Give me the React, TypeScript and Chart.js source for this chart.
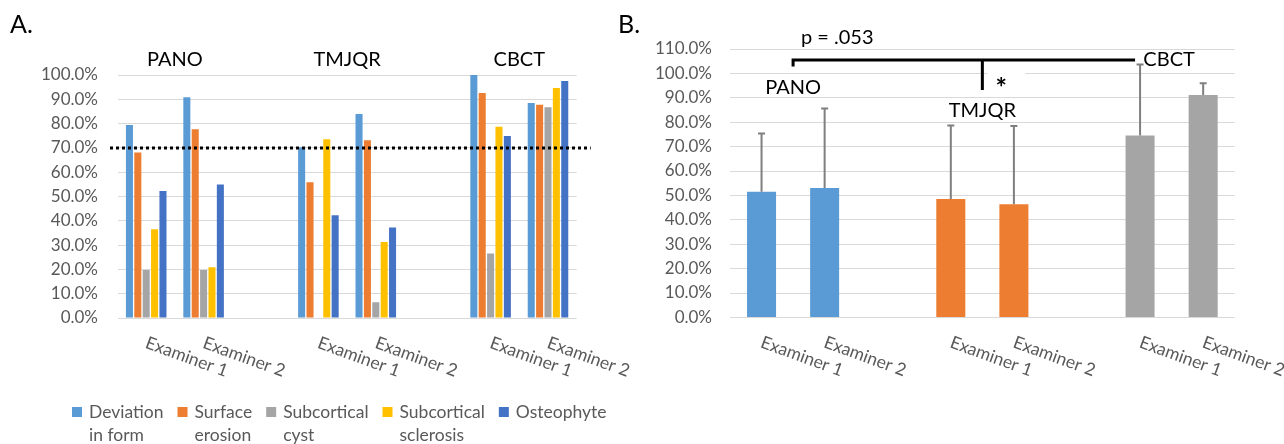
import React, { useEffect, useRef } from "react";
import { Chart, registerables } from "chart.js";

Chart.register(...registerables);

const FONT = "Lato, 'Open Sans', sans-serif";
const GREY_TEXT = "#595959";
const GRID = "#D9D9D9";

// ---------- shared categories ----------
const categories = ["Examiner 1", "Examiner 2", "", "Examiner 1", "Examiner 2", "", "Examiner 1", "Examiner 2"];
const modalities = ["PANO", "TMJQR", "CBCT"];
const modalityCenters = [0.5, 3.5, 6.5];

// ---------- panel A ----------
const seriesNames = ["Deviation in form", "Surface erosion", "Subcortical cyst", "Subcortical sclerosis", "Osteophyte"];
const legendLines = [["Deviation", "in form"], ["Surface", "erosion"], ["Subcortical", "cyst"], ["Subcortical", "sclerosis"], ["Osteophyte"]];
const seriesColors = ["#5B9BD5", "#ED7D31", "#A5A5A5", "#FFC000", "#4472C4"];
const deviationInForm = [79.4, 90.8, null, 70.3, 83.9, null, 100, 88.5];
const surfaceErosion = [68.1, 77.7, null, 55.9, 73.1, null, 92.6, 87.8];
const subcorticalCyst = [19.8, 19.8, null, 0, 6.5, null, 26.5, 86.7];
const subcorticalSclerosis = [36.5, 20.9, null, 73.6, 31.3, null, 78.7, 94.6];
const osteophyte = [52.3, 54.9, null, 42.3, 37.2, null, 74.9, 97.5];
const seriesValues = [deviationInForm, surfaceErosion, subcorticalCyst, subcorticalSclerosis, osteophyte];
const thresholdValue = 70;
const yMaxA = 100;
const yMaxB = 110;
const yStep = 10;

// ---------- panel B ----------
const meanAgreement = [51.5, 53.0, null, 48.5, 46.4, null, 74.6, 91.1];
const upperError = [75.4, 85.6, null, 78.6, 78.4, null, 103.6, 96.0];
const barColorsB = ["#5B9BD5", "#5B9BD5", "#FFFFFF", "#ED7D31", "#ED7D31", "#FFFFFF", "#A5A5A5", "#A5A5A5"];
const pValueText = "p = .053";
const sigMark = "*";

const pct = (v: any) => Number(v).toFixed(1) + "%";

const rotatedLabelsPlugin = {
  id: "rotatedLabels",
  afterDraw(chart: any) {
    const { ctx, scales, chartArea } = chart;
    const x = scales.x;
    ctx.save();
    ctx.font = `17.5px ${FONT}`;
    ctx.fillStyle = GREY_TEXT;
    ctx.textAlign = "left";
    ctx.textBaseline = "top";
    categories.forEach((lab, i) => {
      if (!lab) return;
      const px = x.getPixelForValue(i);
      ctx.save();
      ctx.translate(px + 3, chartArea.bottom + 16);
      ctx.rotate((20 * Math.PI) / 180);
      ctx.fillText(lab, 0, 0);
      ctx.restore();
    });
    ctx.restore();
  },
};

const panelAPlugin = {
  id: "panelA",
  afterDatasetsDraw(chart: any) {
    const { ctx, scales, chartArea } = chart;
    const y = scales.y.getPixelForValue(thresholdValue);
    ctx.save();
    ctx.strokeStyle = "#000";
    ctx.lineWidth = 3;
    ctx.setLineDash([3, 3]);
    ctx.beginPath();
    ctx.moveTo(chartArea.left - 7.5, y);
    ctx.lineTo(chartArea.right + 14, y);
    ctx.stroke();
    ctx.restore();
  },
  afterDraw(chart: any) {
    const { ctx, scales, chartArea } = chart;
    const x = scales.x;
    ctx.save();
    // panel letter
    ctx.fillStyle = "#000";
    ctx.font = `25px ${FONT}`;
    ctx.textAlign = "left";
    ctx.textBaseline = "alphabetic";
    ctx.fillText("A.", 10, 33);
    // modality headers
    ctx.font = `20px ${FONT}`;
    ctx.textAlign = "center";
    ctx.textBaseline = "middle";
    modalities.forEach((m, i) => {
      ctx.fillText(m, x.getPixelForValue(modalityCenters[i]), chartArea.top - 15);
    });
    // legend
    ctx.font = `17.5px ${FONT}`;
    ctx.textAlign = "left";
    ctx.textBaseline = "alphabetic";
    let cx = 72;
    legendLines.forEach((lines, i) => {
      ctx.fillStyle = seriesColors[i];
      ctx.fillRect(cx, 407, 10, 10);
      ctx.fillStyle = GREY_TEXT;
      const tx = cx + 17;
      let w = 0;
      lines.forEach((ln, j) => {
        ctx.fillText(ln, tx, 418 + j * 23);
        w = Math.max(w, ctx.measureText(ln).width);
      });
      cx = tx + w + 14;
    });
    ctx.restore();
  },
};

const panelBPlugin = {
  id: "panelB",
  afterDatasetsDraw(chart: any) {
    const { ctx, scales } = chart;
    const meta = chart.getDatasetMeta(0);
    ctx.save();
    ctx.strokeStyle = "#7F7F7F";
    ctx.lineWidth = 2;
    meta.data.forEach((bar: any, i: number) => {
      const up = upperError[i];
      const v = meanAgreement[i];
      if (up == null || v == null) return;
      const top = scales.y.getPixelForValue(up);
      ctx.beginPath();
      ctx.moveTo(bar.x, bar.y);
      ctx.lineTo(bar.x, top);
      ctx.moveTo(bar.x - 3.5, top);
      ctx.lineTo(bar.x + 3.5, top);
      ctx.stroke();
    });
    ctx.restore();
  },
  afterDraw(chart: any) {
    const { ctx, scales } = chart;
    const x = scales.x;
    const y = scales.y;
    ctx.save();
    ctx.fillStyle = "#000";
    ctx.font = `25px ${FONT}`;
    ctx.textAlign = "left";
    ctx.textBaseline = "alphabetic";
    ctx.fillText("B.", 18, 33);

    const xL = x.getPixelForValue(0.5);
    const xM = x.getPixelForValue(3.5);
    const xR = x.getPixelForValue(6) - 5;
    const yb = y.getPixelForValue(105.5);

    // white box behind significance mark
    ctx.fillStyle = "#FFFFFF";
    ctx.fillRect(xM + 5, y.getPixelForValue(102), 38, y.getPixelForValue(90.8) - y.getPixelForValue(102));

    // bracket
    ctx.strokeStyle = "#000";
    ctx.lineWidth = 3;
    ctx.lineCap = "butt";
    ctx.beginPath();
    ctx.moveTo(xL, y.getPixelForValue(102.8));
    ctx.lineTo(xL, yb);
    ctx.lineTo(xR, yb);
    ctx.moveTo(xM, yb);
    ctx.lineTo(xM, y.getPixelForValue(93.2));
    ctx.stroke();

    ctx.fillStyle = "#000";
    ctx.font = `20px ${FONT}`;
    ctx.textAlign = "center";
    ctx.textBaseline = "middle";
    ctx.fillText(pValueText, x.getPixelForValue(1.2), y.getPixelForValue(114.8));
    ctx.fillText(modalities[0], x.getPixelForValue(0.5), y.getPixelForValue(94.0));
    ctx.fillText(modalities[1], x.getPixelForValue(3.5), y.getPixelForValue(84.6));
    ctx.fillText(modalities[2], x.getPixelForValue(6.46), y.getPixelForValue(105.5));
    ctx.font = `bold 27px ${FONT}`;
    ctx.fillText(sigMark, x.getPixelForValue(3.8), y.getPixelForValue(93.8));
    ctx.restore();
  },
};

function yAxis(max: number, width: number, padding: number) {
  return {
    min: 0,
    max,
    ticks: {
      stepSize: yStep,
      callback: (v: any) => pct(v),
      color: GREY_TEXT,
      font: { family: FONT, size: 17 },
      padding,
    },
    grid: { color: GRID, lineWidth: 1, drawTicks: false },
    border: { display: false },
    afterFit: (a: any) => {
      a.width = width;
    },
  };
}

export default function App() {
  const refA = useRef<HTMLCanvasElement>(null);
  const refB = useRef<HTMLCanvasElement>(null);

  useEffect(() => {
    Chart.defaults.font.family = FONT;
    const chartA = new Chart(refA.current as HTMLCanvasElement, {
      type: "bar",
      data: {
        labels: categories,
        datasets: seriesNames.map((name, i) => ({
          label: name,
          data: seriesValues[i],
          backgroundColor: seriesColors[i],
          categoryPercentage: 0.73,
          barPercentage: 0.84,
        })),
      },
      options: {
        responsive: false,
        animation: false,
        layout: { padding: { left: 0, top: 75, right: 63.3, bottom: 126 } },
        plugins: { legend: { display: false }, tooltip: { enabled: false } },
        scales: {
          x: { display: false },
          y: yAxis(yMaxA, 117.5, 19.5),
        },
      } as any,
      plugins: [panelAPlugin, rotatedLabelsPlugin],
    });

    const chartB = new Chart(refB.current as HTMLCanvasElement, {
      type: "bar",
      data: {
        labels: categories,
        datasets: [
          {
            label: "Mean",
            data: meanAgreement,
            backgroundColor: barColorsB,
            categoryPercentage: 1,
            barPercentage: 0.46,
          },
        ],
      },
      options: {
        responsive: false,
        animation: false,
        layout: { padding: { left: 0, top: 49, right: 49.3, bottom: 126.6 } },
        plugins: { legend: { display: false }, tooltip: { enabled: false } },
        scales: {
          x: { display: false },
          y: yAxis(yMaxB, 130, 18),
        },
      } as any,
      plugins: [panelBPlugin, rotatedLabelsPlugin],
    });

    return () => {
      chartA.destroy();
      chartB.destroy();
    };
  }, []);

  return (
    <div style={{ position: "absolute", left: 0, top: 0, width: 1284, height: 444, background: "#fff", overflow: "hidden" }}>
      <canvas ref={refA} width={640} height={444} style={{ position: "absolute", left: 0, top: 0, width: 640, height: 444 }} />
      <canvas ref={refB} width={684} height={444} style={{ position: "absolute", left: 600, top: 0, width: 684, height: 444 }} />
    </div>
  );
}
